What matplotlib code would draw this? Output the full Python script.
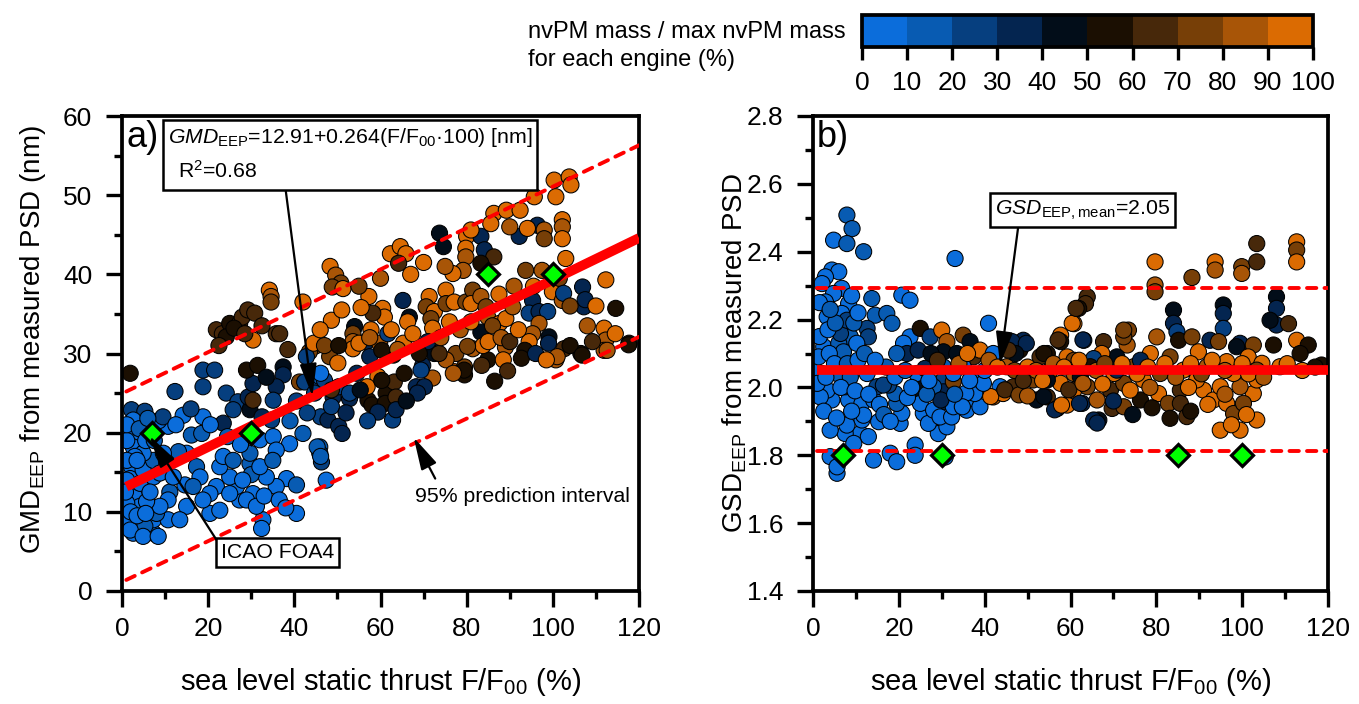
import matplotlib
matplotlib.use('Agg')
import matplotlib.pyplot as plt
from matplotlib.colors import ListedColormap, BoundaryNorm
from matplotlib.cm import ScalarMappable
from matplotlib.ticker import MultipleLocator, FormatStrFormatter
from matplotlib.patches import Rectangle
import numpy as np

plt.rcParams['font.family'] = ['Liberation Sans', 'DejaVu Sans']
plt.rcParams['mathtext.fontset'] = 'custom'
plt.rcParams['mathtext.rm'] = 'Liberation Sans'
plt.rcParams['mathtext.it'] = 'Liberation Sans:italic'
plt.rcParams['mathtext.bf'] = 'Liberation Sans:bold'

# ---------------- data: panel a (GMD) ----------------
thrust_a = [1.9, 2.2, 5.3, 2.6, 3.0, 2.6, 2.2, 1.9, 2.6, 3.0,
            4.2, 2.6, 2.6, 7.3, 7.3, 5.3, 10.7, 8.0, 10.7, 14.2,
            18.8, 16.1, 18.5, 15.0, 13.1, 17.3, 11.1, 14.6, 10.7, 12.3,
            18.8, 21.5, 18.8, 24.2, 26.9, 25.8, 23.5, 29.7, 29.3, 30.4,
            28.9, 30.4, 37.4, 37.4, 35.8, 35.1, 34.7, 41.2, 44.3, 32.0,
            35.1, 38.9, 35.8, 42.0, 45.9, 45.9, 46.3, 47.4, 40.5, 32.7,
            32.4, 38.2, 35.8, 40.5, 33.5, 30.4, 27.3, 26.6, 25.0, 22.7,
            23.5, 21.9, 20.4, 20.4, 22.7, 25.8, 29.7, 29.7, 30.0, 32.0,
            28.9, 31.2, 25.0, 18.1, 18.8, 16.5, 15.0, 13.4, 8.8, 5.7,
            4.2, 7.3, 4.9, 7.3, 9.6, 4.9, 8.8, 10.4, 11.9, 3.0,
            1.1, 1.1, 1.1, 1.1, 1.9, 4.9, 8.4, 1.1, 1.1, 4.0,
            8.5, 21.9, 23.3, 25.0, 24.2, 27.3, 27.9, 29.2, 30.8, 30.4,
            34.2, 34.6, 34.6, 35.8, 36.6, 26.0, 48.3, 49.6, 50.8, 48.8,
            51.3, 57.3, 48.6, 62.3, 64.6, 65.9, 64.2, 73.7, 74.6, 80.0,
            79.8, 79.8, 79.2, 76.8, 83.3, 84.1, 86.3, 83.3, 86.3, 85.6,
            81.0, 89.2, 92.4, 92.2, 96.4, 94.1, 98.0, 98.0, 102.2, 102.2,
            102.2, 100.3, 103.8, 104.2, 100.7, 95.7, 93.7, 95.3, 94.5, 96.8,
            98.8, 99.9, 102.2, 101.5, 96.8, 99.1, 95.3, 94.5, 93.7, 100.7,
            102.6, 106.9, 107.2, 112.3, 114.6, 111.9, 112.3, 111.9, 109.2, 106.5,
            117.7, 54.0, 53.6, 53.6, 56.7, 44.7, 48.2, 50.1, 43.5, 60.5,
            60.9, 58.2, 57.8, 59.8, 61.7, 65.2, 66.7, 66.3, 71.3, 70.6,
            72.5, 71.7, 72.1, 75.2, 75.2, 77.1, 79.8, 81.4, 81.0, 83.3,
            84.5, 84.9, 83.3, 87.6, 89.1, 90.7, 42.4, 44.7, 49.0, 52.8,
            57.1, 61.3, 63.2, 59.4, 69.8, 68.3, 72.1, 72.5, 77.1, 79.5,
            79.5, 84.9, 81.4, 83.8, 77.5, 53.6, 57.5, 63.0, 42.8, 45.9,
            44.5, 47.0, 50.3, 55.0, 60.3, 65.3, 71.0, 80.2, 85.0, 89.0,
            93.5, 99.0, 104.0, 106.8, 112.6, 117.6, 75.2, 79.4, 83.5, 76.9,
            88.5, 92.7, 101.0, 96.0, 98.5, 69.4, 70.2, 68.6, 73.6, 58.0,
            61.1, 63.6, 59.4, 62.8, 63.6, 56.9, 60.3, 46.1, 47.8, 50.3,
            48.6, 51.1, 45.3, 46.1, 50.3, 52.8, 47.0, 46.1, 48.6, 55.3,
            102.5, 107.5, 90.0]

gmd_a = [27.5, 22.9, 22.7, 21.6, 19.9, 18.2, 15.7, 14.2, 13.2, 11.9,
         10.7, 9.0, 7.3, 7.3, 9.0, 8.2, 9.0, 9.8, 20.8, 22.2,
         22.0, 19.7, 19.9, 17.4, 17.6, 15.7, 12.5, 13.4, 11.5, 25.2,
         27.9, 27.9, 25.8, 25.0, 23.9, 22.9, 21.2, 22.9, 24.5, 26.2,
         27.9, 24.1, 28.3, 27.3, 25.8, 24.1, 21.6, 26.4, 26.4, 19.1,
         19.5, 18.6, 17.8, 19.9, 18.2, 17.4, 16.3, 14.0, 9.8, 9.0,
         7.9, 14.2, 13.2, 13.4, 14.4, 12.3, 11.5, 13.2, 14.4, 15.7,
         17.0, 13.2, 12.3, 9.8, 10.2, 16.5, 16.1, 17.4, 14.7, 15.7,
         11.5, 10.7, 12.3, 14.4, 11.5, 13.2, 10.7, 9.0, 10.7, 11.3,
         13.6, 14.4, 15.3, 16.5, 17.4, 17.4, 14.9, 16.1, 14.4, 17.0,
         16.5, 14.0, 11.1, 9.0, 7.7, 6.9, 6.9, 19.0, 21.0, 20.5,
         21.5, 33.0, 32.5, 33.8, 32.1, 33.8, 34.6, 35.5, 35.1, 31.7,
         38.0, 37.2, 36.5, 32.5, 32.5, 33.2, 41.0, 39.9, 38.9, 38.4,
         38.2, 37.2, 34.2, 42.6, 43.5, 42.6, 41.4, 45.2, 43.5, 44.8,
         43.3, 42.2, 40.5, 40.1, 44.8, 43.1, 42.2, 41.4, 47.7, 46.4,
         45.6, 48.1, 48.1, 44.8, 46.2, 45.8, 45.6, 44.5, 46.9, 46.0,
         44.5, 51.9, 52.3, 51.3, 49.8, 49.8, 40.5, 36.7, 35.1, 35.3,
         35.3, 37.8, 36.7, 39.5, 33.8, 32.1, 32.5, 31.5, 30.2, 29.2,
         30.6, 38.4, 35.9, 39.3, 35.7, 33.2, 31.7, 30.4, 31.5, 30.0,
         31.3, 33.4, 32.5, 31.5, 31.5, 30.9, 29.6, 28.8, 30.2, 35.7,
         34.6, 35.1, 33.0, 31.3, 32.5, 36.7, 34.6, 34.0, 37.2, 35.9,
         35.3, 34.4, 33.2, 38.0, 36.3, 36.5, 36.5, 38.0, 36.3, 37.2,
         35.9, 34.6, 32.7, 33.8, 34.4, 35.9, 26.4, 25.0, 24.5, 24.3,
         24.1, 25.0, 26.4, 27.1, 28.5, 25.8, 26.9, 30.0, 27.7, 28.3,
         27.3, 29.2, 30.6, 31.0, 30.0, 30.6, 29.6, 29.8, 29.6, 27.1,
         31.3, 31.0, 31.0, 31.3, 30.4, 31.3, 31.5, 30.9, 31.5, 30.8,
         30.4, 31.3, 31.0, 29.8, 30.4, 31.1, 29.2, 27.9, 28.5, 27.5,
         29.2, 29.4, 29.6, 30.0, 29.2, 27.9, 25.8, 25.0, 30.0, 23.5,
         23.7, 24.5, 22.6, 21.6, 22.9, 25.8, 26.6, 22.0, 21.6, 20.8,
         23.3, 19.9, 18.2, 17.0, 25.8, 25.0, 26.6, 27.5, 25.4, 25.4,
         37.6, 36.8, 46.0]

mass_a = [55, 25, 25, 5, 5, 5, 5, 5, 5, 5,
          5, 5, 5, 5, 5, 15, 5, 15, 5, 5,
          5, 15, 15, 5, 15, 15, 15, 5, 5, 25,
          25, 25, 25, 25, 25, 25, 35, 45, 35, 35,
          55, 65, 45, 35, 35, 25, 25, 75, 25, 5,
          5, 5, 5, 15, 15, 15, 25, 5, 5, 5,
          5, 5, 5, 15, 5, 5, 5, 5, 5, 5,
          5, 5, 5, 5, 5, 15, 15, 15, 15, 5,
          5, 5, 5, 5, 5, 15, 5, 5, 5, 5,
          5, 5, 5, 15, 5, 5, 5, 5, 5, 5,
          5, 5, 5, 5, 5, 5, 5, 5, 5, 15,
          5, 65, 65, 55, 55, 65, 65, 65, 65, 95,
          95, 85, 75, 65, 65, 55, 95, 85, 75, 75,
          95, 95, 95, 95, 95, 95, 65, 45, 45, 95,
          95, 85, 85, 95, 35, 35, 65, 55, 95, 95,
          95, 95, 95, 35, 35, 95, 85, 75, 95, 85,
          95, 95, 95, 95, 95, 95, 75, 35, 25, 35,
          25, 95, 85, 75, 85, 45, 85, 95, 75, 85,
          65, 35, 35, 95, 55, 95, 85, 85, 65, 55,
          55, 45, 75, 85, 35, 75, 75, 95, 75, 95,
          95, 65, 95, 85, 25, 35, 45, 95, 95, 75,
          95, 75, 95, 95, 75, 95, 75, 75, 95, 85,
          75, 85, 45, 95, 95, 85, 25, 25, 35, 35,
          55, 55, 65, 95, 35, 35, 85, 45, 95, 75,
          55, 55, 85, 95, 75, 95, 35, 55, 25, 15,
          95, 75, 55, 95, 55, 95, 35, 75, 95, 85,
          55, 35, 55, 55, 85, 55, 85, 55, 65, 85,
          95, 55, 85, 35, 95, 25, 35, 35, 65, 55,
          55, 65, 35, 25, 35, 95, 55, 25, 35, 35,
          25, 35, 15, 15, 25, 25, 25, 5, 65, 45,
          25, 35, 85]

# further panel-a points read from the denser clusters
thrust_a2 = [0.8, 2.0, 3.5, 5.5, 6.5, 3.5, 5.5, 7.5, 9.5, 6.0,
             12.5, 16.0, 20.5, 24.5, 27.5, 28.0, 33.0, 36.5, 38.0, 35.0,
             39.0, 40.5, 43.0, 32.5, 31.5, 33.5, 22.5, 28.5, 32.5, 38.5,
             46.0, 51.0, 55.5, 57.5, 62.5, 64.0, 67.5, 69.0, 74.0, 76.0,
             78.5, 81.0, 86.0, 88.0, 90.0, 92.0, 87.5, 91.0, 95.5, 97.5,
             104.0, 67.0, 70.0, 75.0, 60.0, 55.0, 42.0, 86.5, 89.5, 65.5,
             66.0, 54.5, 52.0, 57.0, 103.0, 108.0, 114.5, 110.0]
gmd_a2 = [12.5, 10.0, 9.5, 9.8, 12.5, 16.5, 19.0, 19.0, 22.0, 21.8,
          21.0, 23.0, 21.0, 19.5, 18.5, 14.0, 12.0, 11.5, 10.5, 16.5,
          21.5, 24.0, 22.5, 22.0, 28.5, 27.0, 31.0, 32.5, 33.5, 30.5,
          33.0, 35.5, 35.8, 32.0, 33.0, 30.5, 32.5, 30.0, 32.0, 34.0,
          33.0, 34.0, 33.5, 32.0, 31.5, 33.0, 37.5, 38.5, 38.5, 40.5,
          36.0, 40.0, 41.5, 41.0, 39.5, 38.5, 36.5, 26.5, 27.8, 27.5,
          24.0, 27.5, 22.5, 21.5, 42.0, 33.5, 32.5, 36.0]
mass_a2 = [5, 5, 5, 5, 5, 5, 5, 15, 25, 15,
           5, 25, 5, 15, 5, 5, 5, 5, 5, 15,
           15, 25, 25, 35, 55, 45, 65, 65, 65, 65,
           95, 95, 95, 85, 95, 85, 95, 55, 85, 95,
           85, 95, 75, 85, 65, 95, 95, 85, 95, 85,
           75, 95, 95, 85, 85, 75, 95, 55, 65, 55,
           45, 35, 35, 25, 95, 85, 95, 95]

# ---------------- data: panel b (GSD) ----------------
thrust_b = [7.9, 9.1, 4.8, 7.9, 11.8, 33.1, 4.4, 6.0, 2.9, 2.1,
            6.7, 4.8, 2.9, 8.3, 3.3, 6.7, 13.7, 20.7, 22.6, 14.5,
            17.2, 18.4, 12.6, 12.9, 7.5, 8.7, 2.5, 6.0, 7.1, 10.2,
            40.9, 22.6, 21.1, 25.0, 27.3, 30.0, 31.2, 30.4, 35.0, 36.6,
            37.4, 38.9, 21.9, 24.2, 30.4, 30.4, 30.4, 30.4, 32.7, 38.1,
            42.0, 4.0, 5.6, 5.6, 14.1, 18.0, 19.5, 23.8, 23.8, 30.8,
            11.0, 12.9, 7.5, 4.0, 9.5, 15.3, 11.4, 7.9, 20.3, 20.7,
            25.7, 29.2, 31.2, 26.9, 19.5, 19.1, 25.0, 28.1, 29.6, 32.3,
            32.7, 35.8, 35.8, 38.9, 8.3, 4.4, 3.3, 7.5, 11.4, 11.8,
            14.1, 14.9, 17.6, 1.7, 2.1, 5.6, 8.7, 12.6, 16.4, 19.1,
            24.2, 26.1, 28.1, 32.7, 35.0, 37.7, 38.9, 43.6, 42.0, 45.1,
            48.2, 45.9, 49.0, 44.3, 46.7, 51.3, 52.1, 52.9, 57.5, 6.4,
            7.9, 0.5, 1.3, 1.0, 79.7, 79.7, 79.7, 88.3, 93.7, 93.7,
            99.9, 99.9, 103.4, 103.4, 112.7, 112.7, 112.7, 108.0, 108.0, 108.0,
            106.5, 110.8, 112.7, 115.4, 113.5, 107.3, 118.5, 84.0, 84.0, 84.8,
            85.2, 95.6, 95.6, 95.6, 99.5, 98.7, 88.3, 89.8, 92.5, 94.5,
            102.6, 101.4, 104.6, 96.4, 63.9, 63.5, 61.9, 60.8, 63.1, 57.7,
            57.7, 67.7, 73.5, 73.2, 72.4, 70.8, 67.3, 65.4, 80.1, 78.6,
            83.2, 54.6, 59.2, 60.8, 54.6, 56.9, 59.2, 62.7, 60.8, 66.2,
            66.6, 65.4, 69.7, 72.4, 69.3, 72.4, 77.0, 76.3, 80.5, 82.8,
            85.6, 85.6, 83.2, 87.1, 91.0, 93.3, 96.4, 98.0, 94.9, 99.5,
            103.4, 102.6, 100.3, 103.4, 99.5, 55.3, 60.8, 64.6, 70.1, 74.7,
            80.9, 86.3, 91.8, 98.0, 103.4, 108.8, 76.3, 70.8, 57.7, 63.9,
            73.9, 89.4, 94.9, 62.3, 54.6, 46.4, 49.7, 53.8, 57.1, 60.4,
            61.3, 62.9, 72.4, 41.4, 44.7, 48.0, 50.0, 53.8, 56.3, 57.9,
            62.1, 66.2, 59.6, 62.9, 47.2, 45.5, 39.7, 35.6, 34.8, 29.8]

gsd_b = [2.508, 2.468, 2.434, 2.424, 2.40, 2.38, 2.346, 2.341, 2.326, 2.306,
         2.292, 2.277, 2.252, 2.247, 2.208, 2.218, 2.262, 2.272, 2.257, 2.213,
         2.218, 2.189, 2.174, 2.149, 2.174, 2.149, 2.12, 2.13, 2.105, 2.13,
         2.189, 2.149, 2.13, 2.174, 2.149, 2.169, 2.135, 2.105, 2.154, 2.135,
         2.09, 2.11, 2.10, 1.997, 2.06, 2.022, 1.987, 1.958, 2.017, 1.987,
         1.972, 1.796, 1.747, 1.766, 1.786, 1.806, 1.781, 1.83, 1.80, 1.795,
         1.864, 1.855, 1.864, 1.874, 1.835, 1.899, 1.904, 1.889, 1.894, 1.924,
         1.924, 1.864, 1.884, 1.894, 1.953, 1.982, 1.953, 1.933, 1.913, 1.913,
         1.943, 1.933, 1.963, 1.943, 1.963, 1.963, 1.992, 2.002, 1.953, 1.918,
         1.963, 2.002, 2.007, 1.972, 2.041, 2.041, 2.031, 2.041, 2.007, 2.031,
         2.041, 2.056, 2.002, 2.041, 2.061, 1.982, 2.022, 2.002, 2.10, 2.061,
         2.11, 2.12, 2.139, 1.982, 2.002, 2.022, 1.963, 2.09, 2.139, 2.159,
         2.198, 2.05, 2.09, 2.012, 2.37, 2.302, 2.282, 2.324, 2.37, 2.346,
         2.356, 2.336, 2.424, 2.37, 2.429, 2.405, 2.37, 2.267, 2.233, 2.184,
         2.198, 2.188, 2.139, 2.125, 2.10, 2.125, 2.066, 2.228, 2.189, 2.164,
         2.139, 2.243, 2.218, 2.174, 2.13, 2.12, 2.149, 2.105, 2.139, 2.135,
         2.125, 2.09, 2.071, 2.076, 2.267, 2.247, 2.233, 2.188, 2.139, 2.154,
         2.135, 2.135, 2.169, 2.125, 2.149, 2.09, 2.10, 2.085, 2.149, 2.10,
         2.09, 2.10, 2.09, 2.08, 1.972, 1.938, 1.948, 1.953, 1.992, 1.963,
         1.904, 1.904, 1.938, 1.943, 1.992, 2.012, 2.022, 1.963, 1.982, 1.953,
         1.992, 1.953, 1.909, 1.914, 1.992, 1.963, 1.953, 1.923, 1.874, 1.874,
         1.904, 1.982, 1.953, 2.022, 2.002, 2.051, 2.041, 2.061, 2.041, 2.061,
         2.041, 2.051, 2.061, 2.041, 2.051, 2.061, 2.08, 2.051, 2.012, 2.002,
         1.992, 2.022, 2.002, 2.031, 2.022, 2.135, 2.13, 2.10, 2.14, 2.189,
         2.233, 2.14, 2.169, 1.973, 1.993, 1.978, 1.975, 1.973, 1.934, 1.948,
         1.953, 1.895, 1.993, 2.012, 2.10, 2.11, 2.012, 1.983, 1.943, 1.963]

mass_b = [15, 15, 5, 15, 15, 5, 5, 5, 5, 5,
          5, 5, 5, 5, 5, 5, 15, 5, 5, 15,
          15, 15, 25, 25, 15, 15, 5, 15, 15, 5,
          5, 5, 5, 55, 25, 95, 85, 45, 75, 45,
          65, 95, 35, 45, 15, 25, 35, 35, 75, 45,
          85, 5, 5, 5, 5, 5, 5, 5, 5, 5,
          5, 5, 5, 5, 5, 5, 5, 5, 5, 5,
          5, 5, 5, 5, 15, 15, 5, 5, 5, 5,
          5, 5, 5, 5, 5, 5, 5, 15, 5, 5,
          5, 25, 25, 5, 15, 15, 15, 5, 25, 5,
          5, 35, 15, 5, 5, 5, 5, 5, 5, 85,
          55, 35, 35, 95, 65, 75, 45, 65, 95, 25,
          25, 5, 5, 5, 95, 85, 75, 75, 95, 85,
          75, 85, 65, 65, 95, 75, 95, 45, 35, 35,
          45, 65, 95, 55, 55, 55, 55, 45, 35, 25,
          55, 45, 35, 25, 35, 45, 75, 95, 35, 75,
          75, 95, 95, 95, 65, 65, 55, 95, 25, 95,
          55, 65, 75, 85, 75, 45, 95, 25, 85, 95,
          75, 55, 95, 75, 65, 35, 95, 35, 95, 85,
          45, 35, 65, 75, 65, 75, 95, 55, 95, 75,
          65, 65, 55, 65, 95, 95, 95, 75, 95, 95,
          95, 95, 75, 95, 85, 95, 85, 55, 95, 75,
          75, 95, 85, 95, 75, 95, 35, 35, 95, 75,
          95, 95, 95, 45, 45, 35, 35, 55, 65, 95,
          65, 35, 75, 95, 65, 75, 85, 45, 35, 95,
          35, 35, 65, 85, 45, 65, 5, 5, 5, 35]

thrust_b2 = [1.5, 3.5, 5.2, 9.5, 10.5, 1.5, 4.0, 9.0, 3.8, 5.0,
             8.0, 10.5, 12.0, 3.0, 6.5, 9.8, 2.5, 5.5, 9.0, 13.0,
             15.5, 16.5, 18.0, 22.0, 23.0, 26.5, 27.0, 21.5, 17.0, 14.5,
             19.5, 24.5, 27.5, 33.5, 34.0, 36.0, 29.0, 33.0, 36.5, 40.0,
             41.0, 43.0, 47.0, 50.0, 52.0, 49.0, 53.5, 56.0, 58.5, 62.0,
             66.0, 68.0, 72.0, 75.5, 78.0, 82.0, 84.5, 88.0, 90.5, 93.0,
             96.0, 100.0, 101.5, 105.0, 110.5, 114.0, 117.0, 67.5, 78.5, 87.5,
             92.0, 96.0, 101.0, 97.5, 88.0, 79.0, 74.5, 70.0]
gsd_b2 = [2.15, 2.17, 2.19, 2.19, 2.22, 2.25, 2.23, 2.27, 2.10, 2.07,
          2.07, 2.08, 2.10, 2.03, 2.00, 1.99, 1.93, 1.91, 1.93, 1.98,
          1.95, 1.92, 1.90, 1.97, 2.00, 1.98, 2.02, 2.05, 2.06, 2.08,
          2.10, 2.11, 2.10, 2.10, 2.07, 2.10, 2.08, 1.98, 2.02, 2.05,
          2.08, 2.06, 2.05, 2.06, 2.05, 2.02, 2.02, 2.07, 2.06, 2.08,
          2.05, 2.07, 2.07, 2.04, 2.06, 2.07, 2.03, 2.07, 2.04, 2.08,
          2.05, 2.07, 2.04, 2.03, 2.07, 2.05, 2.06, 2.01, 2.00, 2.00,
          1.95, 1.98, 1.92, 1.89, 1.93, 1.94, 1.92, 1.96]
mass_b2 = [5, 5, 15, 15, 5, 5, 15, 5, 5, 5,
           15, 5, 15, 5, 5, 5, 5, 5, 5, 5,
           5, 15, 5, 5, 5, 15, 5, 15, 15, 5,
           15, 35, 45, 45, 85, 95, 65, 15, 5, 5,
           85, 95, 75, 95, 85, 65, 95, 85, 95, 95,
           85, 75, 95, 95, 95, 95, 85, 95, 75, 95,
           85, 95, 95, 85, 95, 95, 55, 95, 85, 95,
           95, 85, 95, 95, 55, 55, 45, 35]

# ICAO FOA4 reference points
icao_thrust = [7, 30, 85, 100]
icao_gmd = [20, 20, 40, 40]
icao_gsd = [1.8, 1.8, 1.8, 1.8]

# regression + prediction interval (panel a)
gmd_intercept = 12.91
gmd_slope = 0.264
fit_x = [1.0, 120.0]
pi_x = [1.0, 120.0]
pi_upper = [25.2, 56.3]
pi_lower = [1.4, 32.1]

# panel b mean and interval
gsd_mean = 2.05
gsd_upper = 2.292
gsd_lower = 1.812
line_x_b = [1.0, 120.0]

# colour scale
mass_bounds = [0, 10, 20, 30, 40, 50, 60, 70, 80, 90, 100]
bin_colors = ['#0B6DDB', '#085BB2', '#063F7F', '#042550', '#020D19',
              '#1B0F02', '#47280A', '#773F07', '#A85507', '#DB6B02']

# ---------------- figure ----------------
W, H = 1359, 704
fig = plt.figure(figsize=(W / 100, H / 100), dpi=100)
ax1 = fig.add_axes([122 / W, 1 - 591 / H, 517 / W, 475 / H])
ax2 = fig.add_axes([813 / W, 1 - 591 / H, 515 / W, 475 / H])

cmap = ListedColormap(bin_colors)
norm = BoundaryNorm(mass_bounds, cmap.N)

RED = '#FF0000'
TICK_FS = 19
YLABEL_FS = 20
XLABEL_FS = 21
NOTE_FS = 15.3
for ax in (ax1, ax2):
    for sp in ax.spines.values():
        sp.set_linewidth(2.7)
    ax.tick_params(which='major', direction='out', length=11.5, width=2.4,
                   labelsize=TICK_FS)
    ax.tick_params(which='minor', direction='out', length=6, width=2.4)
    ax.tick_params(axis='x', which='major', pad=7)
    ax.tick_params(axis='y', which='major', pad=10)
    ax.set_xlim(0, 120)
    ax.xaxis.set_major_locator(MultipleLocator(20))
    ax.xaxis.set_minor_locator(MultipleLocator(10))
    ax.set_xlabel('sea level static thrust F/F$_{00}$ (%)', fontsize=XLABEL_FS)
    ax.xaxis.set_label_coords(0.5, -0.158)

ARROW = dict(arrowstyle='-|>,head_length=1.0,head_width=0.26', color='black',
             lw=1.6, mutation_scale=20, shrinkA=0, shrinkB=0)
BOX = dict(boxstyle='square,pad=0.24', fc='white', ec='black', lw=1.8)

# panel a
ax1.scatter(thrust_a + thrust_a2, gmd_a + gmd_a2, c=mass_a + mass_a2, cmap=cmap,
            norm=norm, s=135, edgecolors='black', linewidths=0.75, zorder=2)
fx = np.array(fit_x)
ax1.plot(fx, gmd_intercept + gmd_slope * fx, color=RED, lw=7, zorder=3,
         solid_capstyle='butt')
for yy in (pi_upper, pi_lower):
    ax1.plot(pi_x, yy, color=RED, lw=2.8, ls=(0, (2.4, 2.1)),
             dash_capstyle='round', zorder=3)
ax1.plot(icao_thrust, icao_gmd, ls='none', marker='D', ms=11.5,
         mfc='#00FF00', mec='black', mew=2.3, zorder=5)
ax1.set_ylim(0, 60)
ax1.yaxis.set_major_locator(MultipleLocator(10))
ax1.yaxis.set_minor_locator(MultipleLocator(5))
ax1.set_ylabel('GMD$_{\\mathrm{EEP}}$ from measured PSD (nm)', fontsize=YLABEL_FS)
ax1.yaxis.set_label_coords(-0.143, 0.530)

ax1.text(0.008, 0.992, 'a)', transform=ax1.transAxes, fontsize=26,
         ha='left', va='top', zorder=6)

ax1.annotate('', xy=(44.2, 24.6), xytext=(38.0, 50.6), arrowprops=ARROW, zorder=6)
ax1.add_patch(Rectangle((9.5, 50.6), 86.8, 8.9, fc='white', ec='black', lw=1.8,
                        zorder=7))
ax1.text(10.7, 57.3, '$\\mathit{GMD}_{\\mathrm{EEP}}$=12.91+0.264(F/F$_{00}$·100) [nm]',
         fontsize=NOTE_FS, ha='left', va='center', zorder=8)
ax1.text(13.0, 53.1, 'R$^2$=0.68', fontsize=NOTE_FS, ha='left', va='center',
         zorder=8)

ax1.annotate('', xy=(6.4, 19.6), xytext=(22.0, 6.4), arrowprops=ARROW, zorder=6)
ax1.text(36.1, 4.9, 'ICAO FOA4', fontsize=NOTE_FS, ha='center', va='center',
         zorder=7, bbox=BOX)

ax1.annotate('', xy=(67.7, 19.4), xytext=(72.7, 14.2), arrowprops=ARROW, zorder=6)
ax1.text(93.0, 12.0, '95% prediction interval', fontsize=NOTE_FS, ha='center',
         va='center', zorder=7)

# panel b
ax2.scatter(thrust_b + thrust_b2, gsd_b + gsd_b2, c=mass_b + mass_b2, cmap=cmap,
            norm=norm, s=135, edgecolors='black', linewidths=0.75, zorder=2)
ax2.plot(line_x_b, [gsd_mean, gsd_mean], color=RED, lw=7, zorder=3,
         solid_capstyle='butt')
for yv in (gsd_upper, gsd_lower):
    ax2.plot(line_x_b, [yv, yv], color=RED, lw=2.8, ls=(0, (2.4, 2.1)),
             dash_capstyle='round', zorder=3)
ax2.plot(icao_thrust, icao_gsd, ls='none', marker='D', ms=11.5,
         mfc='#00FF00', mec='black', mew=2.3, zorder=5)
ax2.set_ylim(1.4, 2.8)
ax2.yaxis.set_major_locator(MultipleLocator(0.2))
ax2.yaxis.set_minor_locator(MultipleLocator(0.1))
ax2.yaxis.set_major_formatter(FormatStrFormatter('%.1f'))
ax2.set_ylabel('GSD$_{\\mathrm{EEP}}$ from measured PSD', fontsize=YLABEL_FS)
ax2.yaxis.set_label_coords(-0.125, 0.5)

ax2.text(0.008, 0.992, 'b)', transform=ax2.transAxes, fontsize=26,
         ha='left', va='top', zorder=6)
ax2.annotate('', xy=(43.6, 2.068), xytext=(47.8, 2.472), arrowprops=ARROW, zorder=6)
ax2.text(62.8, 2.523, '$\\mathit{GSD}_{\\mathrm{EEP,mean}}$=2.05', fontsize=NOTE_FS,
         ha='center', va='center', zorder=7, bbox=BOX)

# colour bar
cax = fig.add_axes([862 / W, 1 - 47 / H, 451 / W, 32 / H])
cb = fig.colorbar(ScalarMappable(norm=norm, cmap=cmap), cax=cax,
                  orientation='horizontal', ticks=mass_bounds)
cb.outline.set_linewidth(2.7)
cax.tick_params(which='major', direction='out', length=9, width=2.4,
                labelsize=TICK_FS, pad=8)
cax.minorticks_off()
fig.text(528 / W, 1 - 32 / H, 'nvPM mass / max nvPM mass', fontsize=17,
         ha='left', va='center')
fig.text(528 / W, 1 - 60 / H, 'for each engine (%)', fontsize=17,
         ha='left', va='center')

fig.savefig('out.png', dpi=100)
